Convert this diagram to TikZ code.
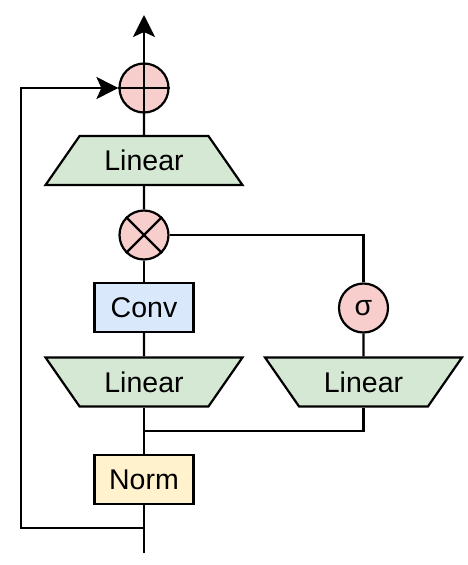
\documentclass[tikz,border=0pt]{standalone}
\usepackage{fontspec}
\setmainfont{Liberation Sans}
\usepackage{xcolor}
\usetikzlibrary{arrows.meta,positioning,shapes,calc}
\definecolor{opred}{HTML}{F8CECC}
\definecolor{lingreen}{HTML}{D5E8D4}
\definecolor{convblue}{HTML}{DAE8FC}
\definecolor{normyellow}{HTML}{FFF2CC}

\begin{document}
\begin{tikzpicture}[x=1pt, y=-1pt, line width=2.2pt,
  op/.style = {circle, draw, fill = opred, minimum size = 49pt, inner sep = 0pt},
  lin/.style = {trapezium, trapezium angle = 45, trapezium stretches = true, draw, fill = lingreen, minimum width = 197pt, minimum height = 49pt, inner sep = 0pt},
  blk/.style = {rectangle, draw, minimum width = 99pt, minimum height = 49pt, inner sep = 0pt},
  tip/.style = {-{Stealth[length = 22pt, width = 22pt, inset = 5pt]}},
  font = \fontsize{28.5}{32}\selectfont]
\useasboundingbox (0,0) rectangle (468,565);
% Operators
\node[op] (plus) at (144,88) {};
\node[op] (times) at (144,235) {};
\node[op] (sig) at (363.5,308) {σ};
% Linear layers
\node[lin] (linout) at (144,160.5) {Linear};
\node[lin, shape border rotate = 180] (linleft) at (144,382) {Linear};
\node[lin, shape border rotate = 180] (linright) at (363.5,382) {Linear};
% Conv and norm
\node[blk, fill = convblue] (conv) at (144,307.5) {Conv};
\node[blk, fill = normyellow] (norm) at (144,479.5) {Norm};
% Fixed points
\coordinate (out) at (144,15);
\coordinate (in) at (144,553);
\coordinate (skip) at (144,528);
\coordinate (merge) at (144,431);
\coordinate (corner) at (21,528);
\coordinate (cornertop) at (21,88);
% Main path
\draw[tip] (plus) -- (out);
\draw (linout) -- (plus);
\draw (times) -- (linout);
\draw (conv) -- (times);
\draw (linleft) -- (conv);
\draw (merge) -- (linleft);
\draw (norm) -- (merge);
\draw (in) -- (norm);
% Gate branch
\draw (merge) -- (merge -| linright) -- (linright);
\draw (linright) -- (sig);
\draw (sig) |- (times);
% Residual
\draw[tip] (skip) -- (corner) -- (cornertop) -- (plus);
% Symbols
\draw (plus.north) -- (plus.south);
\draw (plus.west) -- (plus.east);
\draw (times.north west) -- (times.south east);
\draw (times.north east) -- (times.south west);
\end{tikzpicture}
\end{document}
